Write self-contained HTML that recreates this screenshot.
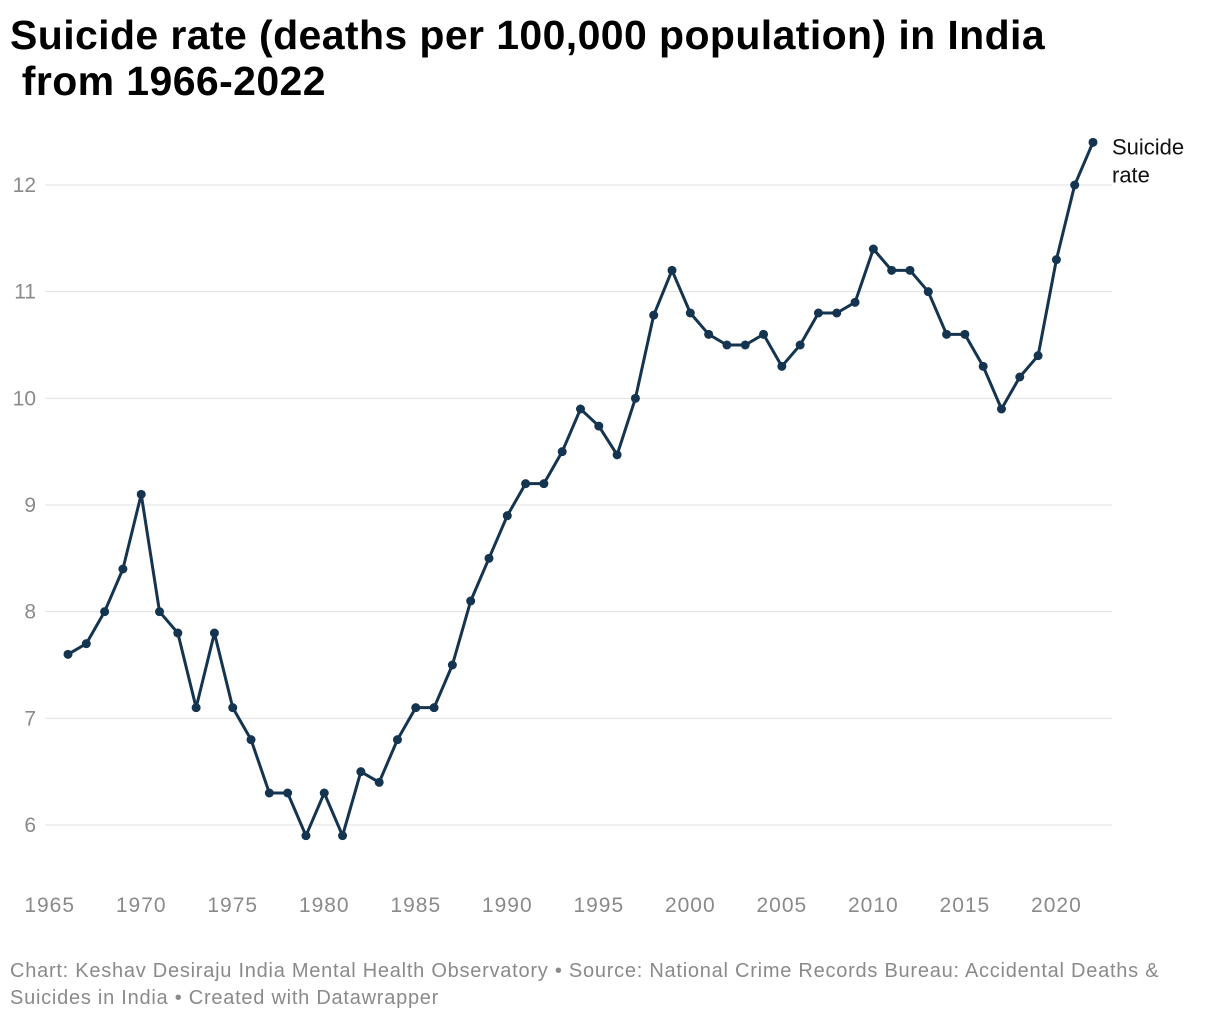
<!DOCTYPE html>
<html><head><meta charset="utf-8"><style>
body{margin:0;background:#fff;width:1220px;height:1020px;overflow:hidden;font-family:"Liberation Sans",sans-serif}
h1{position:absolute;left:10px;top:12px;margin:0;font-size:41px;line-height:46px;font-weight:bold;color:#000;letter-spacing:0.4px}
.foot{position:absolute;left:10px;top:958px;font-size:20px;line-height:27px;color:#8a8a8a;letter-spacing:0.75px}
svg{position:absolute;left:0;top:0}
</style></head><body>
<h1>Suicide rate (deaths per 100,000 population) in India<br>&nbsp;from 1966-2022</h1>
<svg id="chart" width="1220" height="1020"></svg>
<div class="foot">Chart: Keshav Desiraju India Mental Health Observatory • Source: National Crime Records Bureau: Accidental Deaths &amp;<br>Suicides in India • Created with Datawrapper</div>
<script>
const years=[1966,1967,1968,1969,1970,1971,1972,1973,1974,1975,1976,1977,1978,1979,1980,1981,1982,1983,1984,1985,1986,1987,1988,1989,1990,1991,1992,1993,1994,1995,1996,1997,1998,1999,2000,2001,2002,2003,2004,2005,2006,2007,2008,2009,2010,2011,2012,2013,2014,2015,2016,2017,2018,2019,2020,2021,2022];
const rates=[7.6,7.7,8.0,8.4,9.1,8.0,7.8,7.1,7.8,7.1,6.8,6.3,6.3,5.9,6.3,5.9,6.5,6.4,6.8,7.1,7.1,7.5,8.1,8.5,8.9,9.2,9.2,9.5,9.9,9.74,9.47,10.0,10.78,11.2,10.8,10.6,10.5,10.5,10.6,10.3,10.5,10.8,10.8,10.9,11.4,11.2,11.2,11.0,10.6,10.6,10.3,9.9,10.2,10.4,11.3,12.0,12.4];
const yTicks=[6,7,8,9,10,11,12];
const xTicks=[1965,1970,1975,1980,1985,1990,1995,2000,2005,2010,2015,2020];
const svg=document.getElementById('chart');const NS='http://www.w3.org/2000/svg';
const x=v=>68+(v-1966)*(1093-68)/56;
const y=v=>185+(12-v)*(640/6);
function mk(t,a){const e=document.createElementNS(NS,t);for(const k in a)e.setAttribute(k,a[k]);svg.appendChild(e);return e;}
yTicks.forEach(t=>{
 const l=mk('line',{x1:45,x2:1112,y1:y(t),y2:y(t),stroke:'#e0e0e0','stroke-width':1});
 
 
 const tx=mk('text',{x:36,y:y(t)+7,'text-anchor':'end','font-size':21,fill:'#8a8a8a'});tx.textContent=t;
 
 
});
xTicks.forEach(t=>{
 const tx=mk('text',{x:x(t),y:912,'text-anchor':'middle','font-size':21,'letter-spacing':1,fill:'#8a8a8a'});tx.textContent=t;
 
 
});
const p=mk('polyline',{points:years.map((yr,i)=>x(yr)+','+y(rates[i])).join(' '),fill:'none',stroke:'#15344f','stroke-width':3,'stroke-linejoin':'round'});


years.forEach((yr,i)=>{
 const c=mk('circle',{cx:x(yr),cy:y(rates[i]),r:4.5,fill:'#15344f'});
 
 
});
const lab=mk('text',{x:1112,y:y(rates[rates.length-1])+12,'font-size':22,fill:'#111'});
lab.innerHTML='<tspan x="1112">Suicide</tspan><tspan x="1112" dy="28">rate</tspan>';


</script>
</body></html>
